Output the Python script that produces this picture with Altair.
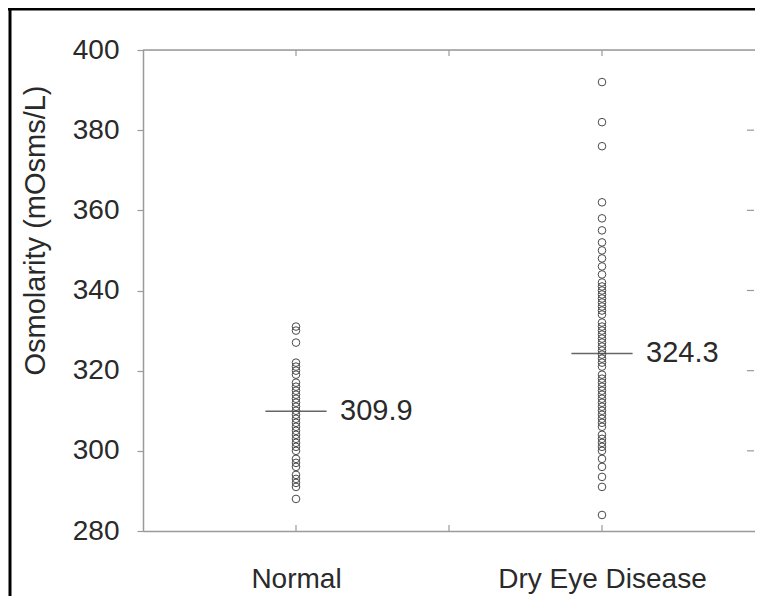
import altair as alt
import pandas as pd

groups = ["Normal", "Dry Eye Disease"]
group_pos = [1, 3]
normal_values = [331, 330, 327, 322, 321, 320, 319, 317, 316, 315, 314, 313, 312,
                 311, 310, 309, 308, 307, 306, 305, 304, 303, 302, 301, 300, 298,
                 297, 296, 294, 293, 292, 291, 288]
dry_values = [392, 382, 376, 362, 358, 355, 352, 350, 348, 346, 344, 342, 341, 340,
              339, 338, 337, 336, 335, 334, 332, 331, 330, 329, 328, 327, 326, 325,
              324, 323, 322, 321, 319, 318, 317, 316, 315, 314, 313, 312, 311, 310,
              309, 308, 307, 306, 304, 303, 302, 301, 300, 298, 296, 293.5, 291, 284]
means = [309.9, 324.3]
mean_labels = ["309.9", "324.3"]
y_ticks = [280, 300, 320, 340, 360, 380, 400]
x_ticks = [1, 2, 3]
right_ticks = [300, 320, 340, 360, 380]

FONT = "Liberation Sans"
AXIS_GRAY = "#9a9a9a"
TEXT = "#2a2a2a"

pts = pd.DataFrame(
    [{"x": group_pos[0], "v": v} for v in normal_values]
    + [{"x": group_pos[1], "v": v} for v in dry_values]
)
mean_df = pd.DataFrame({"x": group_pos, "m": means, "lab": mean_labels,
                        "x0": [p - 0.2 for p in group_pos],
                        "x1": [p + 0.2 for p in group_pos]})

xscale = alt.Scale(domain=[0, 4], nice=False, zero=False)
yscale = alt.Scale(domain=[280, 400], nice=False, zero=False)

W, H = 612, 481
PB = 65

points = alt.Chart(pts).mark_point(
    shape="circle", filled=False, size=58, stroke="#4a4a4a", strokeWidth=1, opacity=1
).encode(
    x=alt.X("x:Q", scale=xscale, axis=alt.Axis(
        values=[1, 3], labelExpr="datum.value == 1 ? 'Normal' : 'Dry Eye Disease'",
        title=None, grid=False, tickSize=0, domainColor=AXIS_GRAY, domainWidth=1.5,
        labelFont=FONT, labelFontSize=28, labelColor=TEXT, labelPadding=34,
        labelBaseline="top", labelLimit=1000)),
    y=alt.Y("v:Q", scale=yscale, axis=alt.Axis(
        values=y_ticks, title="Osmolarity (mOsms/L)", grid=False,
        tickSize=6, tickColor=AXIS_GRAY, tickWidth=1.2, domainColor=AXIS_GRAY,
        domainWidth=1.5, labelFont=FONT, labelFontSize=28, labelColor=TEXT,
        labelPadding=18, titleFont=FONT, titleFontSize=29, titleColor=TEXT,
        titleFontWeight="normal", titlePadding=22, titleY=180)),
)

mean_lines = alt.Chart(mean_df).mark_rule(color="#666666", strokeWidth=1.5).encode(
    x=alt.X("x0:Q", scale=xscale), x2="x1:Q", y=alt.Y("m:Q", scale=yscale)
)
mean_text = alt.Chart(mean_df).mark_text(
    align="left", baseline="middle", dx=44, font=FONT, fontSize=29, color=TEXT
).encode(x=alt.X("x:Q", scale=xscale), y=alt.Y("m:Q", scale=yscale), text="lab:N")

top_df = pd.DataFrame({"a": [0], "b": [4], "y": [400]})
top_line = alt.Chart(top_df).mark_rule(color=AXIS_GRAY, strokeWidth=1.5).encode(
    x=alt.X("a:Q", scale=xscale), x2="b:Q", y=alt.Y("y:Q", scale=yscale)
)

xt = pd.DataFrame({"x": x_ticks})
bottom_ticks = alt.Chart(xt).mark_rule(color=AXIS_GRAY, strokeWidth=1.2).encode(
    x=alt.X("x:Q", scale=xscale), y=alt.value(H), y2=alt.value(H - 6)
)
top_ticks = alt.Chart(xt).mark_rule(color=AXIS_GRAY, strokeWidth=1.2).encode(
    x=alt.X("x:Q", scale=xscale), y=alt.value(0), y2=alt.value(6)
)
rt = pd.DataFrame({"y": right_ticks})
right_tick_marks = alt.Chart(rt).mark_rule(color=AXIS_GRAY, strokeWidth=1.2).encode(
    y=alt.Y("y:Q", scale=yscale), x=alt.value(W - 8), x2=alt.value(W - 1)
)

frame_left = alt.Chart(top_df).mark_rule(color="black", strokeWidth=3).encode(
    x=alt.value(-133), y=alt.value(-42), y2=alt.value(H + PB)
)
frame_top = alt.Chart(top_df).mark_rule(color="black", strokeWidth=3).encode(
    y=alt.value(-41), x=alt.value(-135), x2=alt.value(W + 2)
)

chart = alt.layer(
    frame_left, frame_top, top_line, top_ticks, bottom_ticks, right_tick_marks,
    mean_lines, points, mean_text
).properties(
    width=W, height=H,
    autosize=alt.AutoSizeParams(type="none"),
    padding={"left": 135, "top": 42, "right": 0, "bottom": PB},
).configure_view(strokeWidth=0).configure(background="white")

chart.save("out.html", embed_options={"renderer": "svg", "actions": False})
